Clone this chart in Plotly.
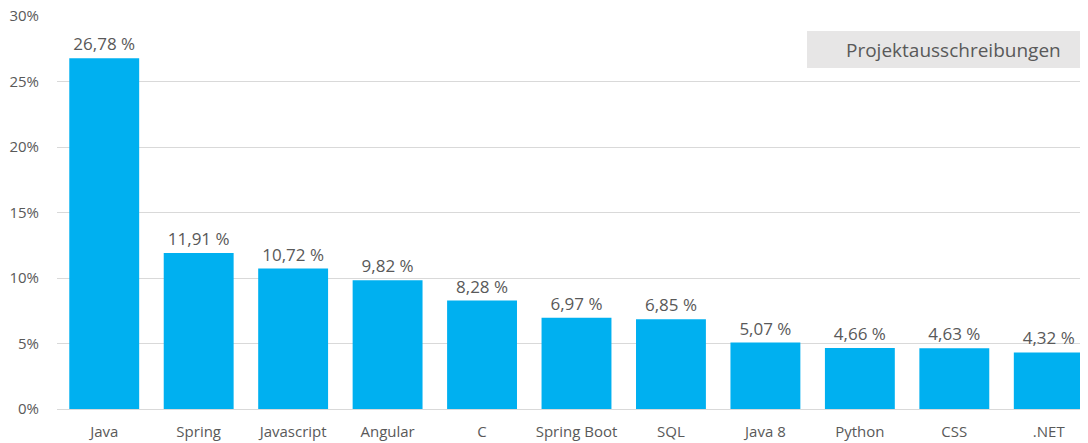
import plotly.graph_objects as go

categories = ["Java", "Spring", "Javascript", "Angular", "C", "Spring Boot",
              "SQL", "Java 8", "Python", "CSS", ".NET"]
values = [26.78, 11.91, 10.72, 9.82, 8.28, 6.97, 6.85, 5.07, 4.66, 4.63, 4.32]
series_name = "Projektausschreibungen"
y_ticks = [0, 5, 10, 15, 20, 25, 30]
y_tick_labels = ["0%", "5%", "10%", "15%", "20%", "25%", "30%"]

labels = [f"{v:.2f}".replace(".", ",") + " %" for v in values]

# page body has an 8px margin; plot area targets screen x 57..1096, y 16..409
PX0, PW, PY0, PH = 57, 1039, 16, 393


def px(sx):
    return (sx - PX0) / PW


def py(sy):
    return 1 - (sy - PY0) / PH


fig = go.Figure()
fig.add_trace(go.Bar(
    x=categories, y=values, name=series_name,
    marker=dict(color="#00B0F0", line=dict(width=0)),
    text=labels, textposition="outside", cliponaxis=False,
    textfont=dict(family="Open Sans", size=17, color="#595959"),
))

fig.update_layout(
    width=1088, height=443,
    margin=dict(l=49, r=0, t=8, b=42, autoexpand=False),
    paper_bgcolor="white", plot_bgcolor="white",
    bargap=0.26,
    showlegend=False,
    font=dict(family="Open Sans", color="#595959", size=15),
    xaxis=dict(range=[-0.5, 10.5], showgrid=False, showline=False,
               ticks="", ticklabelstandoff=12, ticklabeloverflow="allow",
               tickfont=dict(size=15, color="#595959")),
    yaxis=dict(range=[0, 30], tickvals=y_ticks, ticktext=y_tick_labels,
               showgrid=True, gridcolor="#D9D9D9", gridwidth=1,
               zeroline=True, zerolinecolor="#D9D9D9", zerolinewidth=1,
               ticks="", ticklabelstandoff=17, ticklabeloverflow="allow",
               tickfont=dict(size=15, color="#595959")),
)

fig.add_shape(type="rect", xref="paper", yref="paper",
              x0=px(807), x1=1.0, y0=py(68), y1=py(31),
              fillcolor="#E7E6E6", line=dict(width=0), layer="above")
fig.add_annotation(xref="paper", yref="paper",
                   x=px(953), y=py(50),
                   text=series_name, showarrow=False,
                   font=dict(family="Open Sans", size=19, color="#595959"),
                   xanchor="center", yanchor="middle")

fig.write_html("out.html")
